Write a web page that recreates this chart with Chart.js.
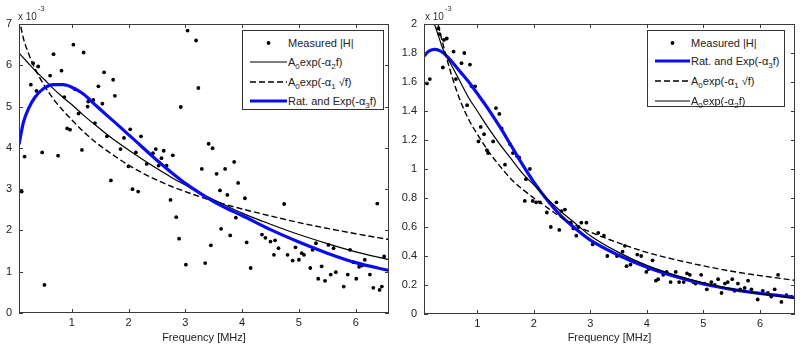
<!DOCTYPE html>
<html>
<head>
<meta charset="utf-8">
<script src="https://cdn.jsdelivr.net/npm/chart.js@4.4.1/dist/chart.umd.min.js"></script>
<style>
  html, body { margin:0; padding:0; background:#fff; }
  body { width:800px; height:350px; position:relative; overflow:hidden; font-family:"Liberation Sans", Arial, sans-serif; color:#222; }
  .pane { position:absolute; top:0; width:400px; height:350px; }
  .exp { position:absolute; font-size:10px; line-height:11px; color:#333; white-space:nowrap; }
  .sup { position:absolute; font-size:7.5px; line-height:8px; color:#333; }
  .leg { position:absolute; border:1px solid #333; background:#fff; box-sizing:border-box; }
  .lt { position:absolute; font-size:11px; line-height:14px; color:#222; white-space:nowrap; }
  .lt sub { font-size:8px; vertical-align:-3px; line-height:0; }
  .ls { position:absolute; height:10px; overflow:visible; }
</style>
</head>
<body>
<div class="pane" style="left:0"><canvas id="cL" width="400" height="350"></canvas></div>
<div class="pane" style="left:400px"><canvas id="cR" width="400" height="350"></canvas></div>

<div class="exp" style="left:18px; top:11px">x 10</div><div class="sup" style="left:38px; top:5px">-3</div>
<div class="exp" style="left:425px; top:11px">x 10</div><div class="sup" style="left:445px; top:5px">-3</div>

<div id="legends"></div>

<script>
// ---------------- DATA ----------------
// x tick labels (MHz) and y tick labels (x 10^-3)
const xTicks = [1, 2, 3, 4, 5, 6];
const leftYTicks = [0, 1, 2, 3, 4, 5, 6, 7];
const rightYTicks = [0, 0.2, 0.4, 0.6, 0.8, 1, 1.2, 1.4, 1.6, 1.8, 2];

// LEFT panel: measured |H| (x 10^-3)
const leftMeasF = [1.03,1.21,0.68,0.32,0.41,0.82,1.57,0.62,1.73,0.28,1.47,1.06,0.38,1.76,0.87,1.38,1.29,1.54,1.28,1.12,1.41,0.92,0.97,2.03,1.62,2.22,1.92,1.86,1.18,0.17,0.48,0.76,2.13,2.00,1.69,2.07,2.17,0.12,0.52,
  3.04,3.19,3.23,2.92,3.41,3.48,2.48,2.62,2.78,2.43,2.58,3.86,2.32,2.53,2.67,3.29,3.70,3.55,3.93,3.61,3.74,2.74,4.05,2.84,3.89,3.63,3.79,2.89,4.08,3.45,3.35,3.01,4.15,
  4.35,4.41,4.50,4.58,4.56,4.64,4.74,4.80,4.89,4.94,5.00,5.05,5.09,5.20,5.24,5.30,5.34,5.40,5.46,5.52,5.56,5.61,5.65,5.79,5.86,5.90,5.96,6.01,6.06,6.11,6.16,6.25,6.31,6.38,6.42,6.46,6.50];
const leftMeasH = [6.50,6.31,6.27,6.05,5.97,5.87,5.83,5.75,5.65,5.53,5.49,5.42,5.38,5.26,5.23,5.16,5.12,5.07,5.00,4.83,4.60,4.47,4.44,4.45,4.28,4.28,4.24,3.97,3.95,3.79,3.89,3.81,3.89,3.55,3.21,3.00,2.94,2.94,0.68,
  6.84,6.60,5.45,4.99,4.10,3.99,3.97,3.93,3.82,3.87,3.75,3.66,3.61,3.57,3.57,3.49,3.49,3.37,3.15,2.97,2.86,2.74,2.78,2.32,2.31,2.04,1.88,1.80,1.71,1.64,1.21,1.17,1.09,
  1.90,1.82,1.73,1.76,1.41,1.57,2.64,1.41,1.27,1.59,1.29,1.45,1.41,1.09,1.53,1.69,0.83,1.13,0.78,1.65,0.93,1.57,0.99,0.64,0.93,1.53,1.23,0.83,1.12,1.15,1.29,0.93,0.61,2.65,0.56,0.64,1.37];

// LEFT panel: fitted curves
const leftFitF    = [0.072,0.15,0.25,0.35,0.5,0.68,0.85,1.0,1.2,1.4,1.6,1.8,2.0,2.25,2.5,2.75,3.0,3.25,3.5,3.75,4.0,4.5,5.0,5.5,6.0,6.586];
const leftExpLin  = [6.30,6.18,6.03,5.88,5.68,5.43,5.22,5.05,4.80,4.57,4.35,4.14,3.95,3.72,3.50,3.29,3.10,2.91,2.74,2.58,2.42,2.15,1.90,1.68,1.48,1.29];
const leftExpSqrt = [7.15,6.65,6.25,5.93,5.55,5.18,4.90,4.68,4.40,4.16,3.95,3.76,3.58,3.39,3.22,3.07,2.94,2.82,2.71,2.61,2.52,2.35,2.19,2.05,1.92,1.78];
const leftRatExp  = [4.08,4.62,4.98,5.22,5.43,5.53,5.53,5.47,5.31,5.06,4.81,4.57,4.32,4.01,3.70,3.41,3.14,2.91,2.70,2.52,2.36,2.02,1.72,1.45,1.22,1.03];

// RIGHT panel: measured |H| (x 10^-3)
const rightMeasF = [0.31,0.33,0.41,0.46,0.58,0.77,0.72,0.87,0.39,0.16,0.11,0.62,0.96,0.90,0.82,1.33,1.39,1.06,1.43,1.12,1.02,1.28,1.58,1.17,1.19,1.63,1.70,1.74,1.49,1.93,1.86,1.84,1.98,2.04,2.11,
  2.23,2.30,2.40,2.45,2.49,2.55,2.65,2.70,2.75,2.79,2.84,2.93,3.04,3.14,3.24,3.30,3.47,3.57,3.64,3.71,3.83,3.90,3.99,4.03,4.10,4.16,4.20,4.29,4.35,4.42,4.51,4.57,4.65,4.71,4.76,4.82,4.86,4.96,5.02,5.06,5.14,5.20,5.26,5.32,5.38,5.43,5.51,5.55,5.61,5.65,5.73,5.79,5.85,5.96,6.05,6.14,6.20,6.26,6.32,6.38,6.47,6.55,3.61];
const rightMeasH = [1.97,1.93,1.89,1.90,1.81,1.80,1.73,1.72,1.70,1.62,1.59,1.62,1.57,1.57,1.44,1.42,1.38,1.29,1.28,1.24,1.19,1.19,1.17,1.13,1.11,1.11,1.09,1.08,1.03,1.00,0.93,0.78,0.78,0.77,0.77,
  0.70,0.60,0.77,0.58,0.71,0.72,0.63,0.59,0.54,0.60,0.63,0.63,0.48,0.56,0.54,0.40,0.40,0.43,0.33,0.34,0.41,0.40,0.29,0.31,0.37,0.23,0.24,0.27,0.29,0.22,0.29,0.22,0.22,0.28,0.27,0.22,0.21,0.27,0.21,0.17,0.22,0.20,0.24,0.145,0.21,0.22,0.24,0.16,0.21,0.17,0.18,0.23,0.17,0.10,0.16,0.145,0.12,0.17,0.27,0.083,0.13,0.12,0.47];

// RIGHT panel: fitted curves
const rightFitF    = [0.057,0.15,0.25,0.4,0.55,0.7,0.85,1.0,1.2,1.4,1.6,1.8,2.0,2.25,2.5,2.75,3.0,3.5,4.0,4.5,5.0,5.5,6.0,6.62];
const rightRatExp  = [1.78,1.815,1.825,1.80,1.74,1.67,1.60,1.52,1.41,1.29,1.16,1.03,0.91,0.78,0.67,0.585,0.51,0.405,0.322,0.258,0.207,0.170,0.142,0.115];
const rightExpSqrt = [2.73,2.33,2.10,1.85,1.64,1.47,1.34,1.24,1.12,1.02,0.93,0.86,0.80,0.73,0.662,0.61,0.565,0.49,0.425,0.375,0.332,0.295,0.265,0.232];
const rightExpLin  = [2.17,2.08,1.99,1.82,1.71,1.60,1.49,1.40,1.28,1.17,1.07,0.97,0.89,0.79,0.70,0.62,0.54,0.425,0.335,0.268,0.215,0.173,0.140,0.108];

// ---------------- CHART BUILD ----------------
const FONT = '"Liberation Sans", Arial, sans-serif';
const BLUE = '#0b0bef';
const pts = (xs, ys) => xs.map((x, i) => ({ x: x, y: ys[i] }));
const fmt = v => String(Math.round(v * 10) / 10);

const framePlugin = {
  id: 'frame',
  afterDatasetsDraw(chart) {
    const { ctx, chartArea: a, scales: { x, y } } = chart;
    ctx.save();
    ctx.strokeStyle = '#3a3a3a';
    ctx.lineWidth = 1;
    ctx.strokeRect(Math.round(a.left) + 0.5, Math.round(a.top) + 0.5,
                   Math.round(a.right - a.left) - 1, Math.round(a.bottom - a.top) - 1);
    ctx.beginPath();
    const T = 4;
    x.ticks.forEach(t => {
      const px = Math.round(x.getPixelForValue(t.value)) + 0.5;
      ctx.moveTo(px, a.bottom); ctx.lineTo(px, a.bottom - T);
      ctx.moveTo(px, a.top); ctx.lineTo(px, a.top + T);
    });
    y.ticks.forEach(t => {
      const py = Math.round(y.getPixelForValue(t.value)) + 0.5;
      ctx.moveTo(a.left, py); ctx.lineTo(a.left + T, py);
      ctx.moveTo(a.right, py); ctx.lineTo(a.right - T, py);
    });
    ctx.stroke();
    ctx.restore();
  }
};

function lineDs(xs, ys, color, width, dash, order) {
  return {
    type: 'scatter', data: pts(xs, ys), showLine: true, borderColor: color, borderWidth: width,
    borderDash: dash, pointRadius: 0, pointHoverRadius: 0, cubicInterpolationMode: 'monotone',
    fill: false, clip: 0, order: order
  };
}
function measDs(xs, ys, order) {
  return {
    type: 'scatter', data: pts(xs, ys), showLine: false, pointStyle: 'circle', pointRadius: 1.9,
    pointBackgroundColor: '#000', pointBorderWidth: 0, pointHoverRadius: 0, clip: 2, order: order
  };
}

function makeChart(id, cfg) {
  return new Chart(document.getElementById(id), {
    type: 'scatter',
    data: { datasets: cfg.datasets },
    options: {
      responsive: false, animation: false, devicePixelRatio: 1, events: [],
      layout: { padding: { left: 0, right: cfg.padRight, top: 24, bottom: 0 } },
      plugins: { legend: { display: false }, tooltip: { enabled: false }, title: { display: false } },
      scales: {
        x: {
          type: 'linear', position: 'bottom', min: cfg.xMin, max: cfg.xMax,
          grid: { display: false, drawTicks: false }, border: { display: false },
          ticks: { font: { family: FONT, size: 11 }, color: '#222', padding: 3, maxRotation: 0, autoSkip: false, callback: fmt },
          title: { display: true, text: 'Frequency [MHz]', font: { family: FONT, size: 11 }, color: '#222', padding: { top: 0, bottom: 5 } },
          afterBuildTicks: s => { s.ticks = xTicks.map(v => ({ value: v })); },
          afterFit: s => { s.height = cfg.xH; }
        },
        y: {
          type: 'linear', position: 'left', min: cfg.yMin, max: cfg.yMax,
          grid: { display: false, drawTicks: false }, border: { display: false },
          ticks: { font: { family: FONT, size: 11 }, color: '#222', padding: cfg.yPad, autoSkip: false, callback: fmt },
          afterBuildTicks: s => { s.ticks = cfg.yTicks.map(v => ({ value: v })); },
          afterFit: s => { s.width = cfg.yW; }
        }
      }
    },
    plugins: [framePlugin]
  });
}

makeChart('cL', {
  xMin: 0.072, xMax: 6.586, yMin: 0, yMax: 7, yTicks: leftYTicks,
  padRight: 11, xH: 37, yW: 19, yPad: 7,
  datasets: [
    lineDs(leftFitF, leftRatExp, BLUE, 3.2, [], 1),
    lineDs(leftFitF, leftExpSqrt, '#000', 1.4, [6, 3], 2),
    lineDs(leftFitF, leftExpLin, '#000', 1.2, [], 3),
    measDs(leftMeasF, leftMeasH, 4)
  ]
});

makeChart('cR', {
  xMin: 0.057, xMax: 6.62, yMin: 0, yMax: 2, yTicks: rightYTicks,
  padRight: 5, xH: 36, yW: 24, yPad: 7,
  datasets: [
    lineDs(rightFitF, rightExpLin, '#000', 1.2, [], 1),
    lineDs(rightFitF, rightExpSqrt, '#000', 1.4, [6, 3], 2),
    lineDs(rightFitF, rightRatExp, BLUE, 3.2, [], 3),
    measDs(rightMeasF, rightMeasH, 4)
  ]
});

// ---------------- LEGENDS (HTML) ----------------
const legendBoxes = [
  { box: [242, 30, 142, 80], sx: 250, sw: 37, tx: 288, rows: [
    { y: 42.5, kind: 'dot', html: 'Measured |H|' },
    { y: 62, kind: 'solid', html: 'A<sub>0</sub>exp(-α<sub>2</sub>f)' },
    { y: 81.5, kind: 'dash', html: 'A<sub>0</sub>exp(-α<sub>1</sub> √f)' },
    { y: 100.5, kind: 'blue', html: 'Rat. and Exp(-α<sub>3</sub>f)' } ] },
  { box: [647, 30, 138, 77], sx: 655, sw: 35, tx: 691, rows: [
    { y: 42.5, kind: 'dot', html: 'Measured |H|' },
    { y: 60.5, kind: 'blue', html: 'Rat. and Exp(-α<sub>3</sub>f)' },
    { y: 81, kind: 'dash', html: 'A<sub>0</sub>exp(-α<sub>1</sub> √f)' },
    { y: 100.5, kind: 'solid', html: 'A<sub>0</sub>exp(-α<sub>2</sub>f)' } ] }
];
const host = document.getElementById('legends');
legendBoxes.forEach(L => {
  const b = document.createElement('div');
  b.className = 'leg';
  b.style.cssText = `left:${L.box[0]}px;top:${L.box[1]}px;width:${L.box[2]}px;height:${L.box[3]}px`;
  host.appendChild(b);
  L.rows.forEach(r => {
    const w = L.sw;
    const s = document.createElementNS('http://www.w3.org/2000/svg', 'svg');
    s.setAttribute('class', 'ls');
    s.setAttribute('width', String(w)); s.setAttribute('height', '10');
    s.style.left = L.sx + 'px'; s.style.top = (r.y - 5) + 'px'; s.style.width = w + 'px';
    let inner = '';
    if (r.kind === 'dot') inner = `<circle cx="${w / 2}" cy="5" r="1.9" fill="#000"/>`;
    if (r.kind === 'solid') inner = `<line x1="0" y1="5" x2="${w}" y2="5" stroke="#000" stroke-width="1.2"/>`;
    if (r.kind === 'dash') inner = `<line x1="0" y1="5" x2="${w}" y2="5" stroke="#000" stroke-width="1.4" stroke-dasharray="6 3"/>`;
    if (r.kind === 'blue') inner = `<line x1="0" y1="5" x2="${w}" y2="5" stroke="${BLUE}" stroke-width="3.2"/>`;
    s.innerHTML = inner;
    host.appendChild(s);
    const t = document.createElement('div');
    t.className = 'lt';
    t.style.left = L.tx + 'px'; t.style.top = (r.y - 7) + 'px';
    t.innerHTML = r.html;
    host.appendChild(t);
  });
});
</script>
</body>
</html>
